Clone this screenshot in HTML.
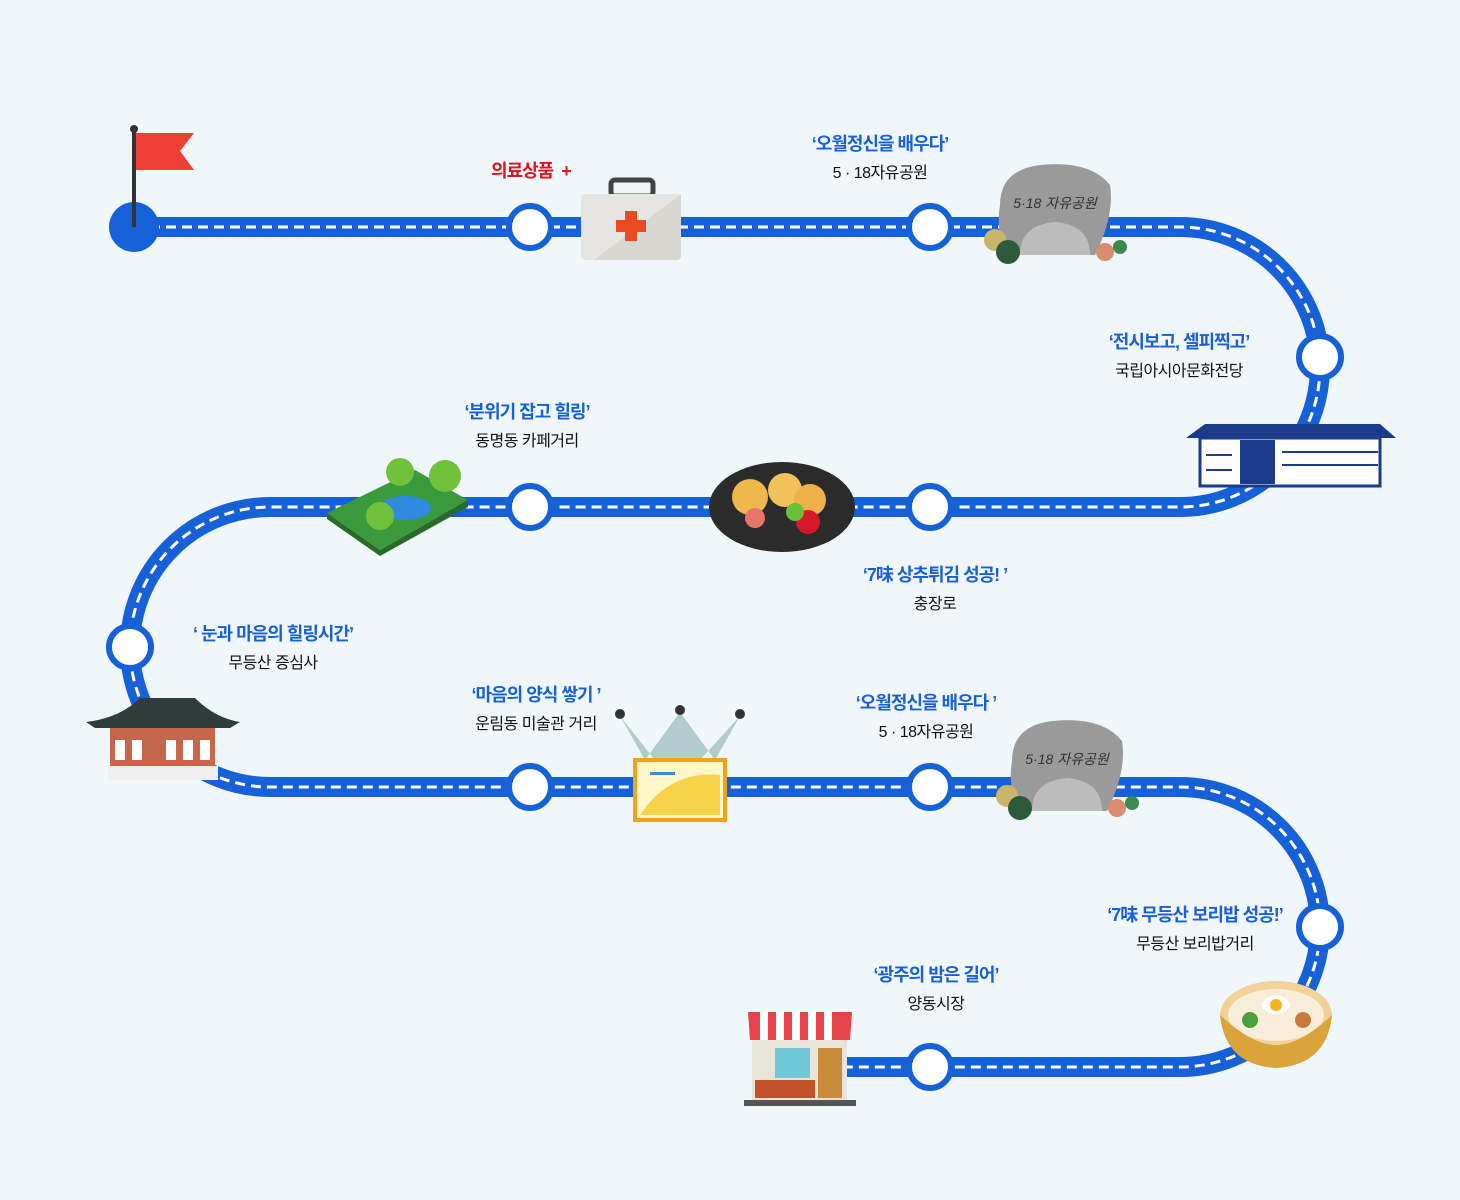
<!DOCTYPE html>
<html><head><meta charset="utf-8"><style>
html,body{margin:0;padding:0;background:#f0f7fb;}
#c{position:relative;width:1460px;height:1200px;overflow:hidden;font-family:"Liberation Sans","Noto Sans CJK KR",sans-serif;}
.t{position:absolute;text-align:center;white-space:nowrap;transform:translateX(-50%);}
.t b{display:block;color:#1a5fd6;font-size:18px;font-weight:700;letter-spacing:-1px;}
.t span{display:block;color:#111;font-size:16px;margin-top:3px;letter-spacing:-0.5px;}
</style></head><body><div id="c">
<svg width="1460" height="1200" style="position:absolute;left:0;top:0">
<path d="M134 227 H1180 A140 140 0 0 1 1180 507 H270 A140 140 0 0 0 270 787 H1180 A140 140 0 0 1 1180 1067 H845" fill="none" stroke="#1660d8" stroke-width="20"/>
<path d="M134 227 H1180 A140 140 0 0 1 1180 507 H270 A140 140 0 0 0 270 787 H1180 A140 140 0 0 1 1180 1067 H845" fill="none" stroke="#fff" stroke-width="3" stroke-dasharray="10 6"/>
<circle cx="134" cy="227" r="25" fill="#1660d8"/>
<line x1="134" y1="130" x2="134" y2="227" stroke="#333" stroke-width="4"/>
<circle cx="134" cy="129" r="4" fill="#333"/>
<path d="M136 133 H194 L180 151 L194 170 H136 Z" fill="#ef3e36"/>
<g fill="#fff" stroke="#1660d8" stroke-width="6">
<circle cx="530" cy="227" r="21"/><circle cx="930" cy="227" r="21"/><circle cx="1320" cy="357" r="21"/>
<circle cx="930" cy="507" r="21"/><circle cx="530" cy="507" r="21"/><circle cx="130" cy="647" r="21"/>
<circle cx="530" cy="787" r="21"/><circle cx="930" cy="787" r="21"/><circle cx="1320" cy="927" r="21"/>
<circle cx="930" cy="1067" r="21"/>
</g>
<rect x="611" y="180" width="42" height="16" rx="4" fill="none" stroke="#444" stroke-width="5"/>
<rect x="581" y="194" width="100" height="66" rx="4" fill="#e6e5e1"/>
<path d="M594 260 L681 194 V256 a4 4 0 0 1 -4 4Z" fill="#d9d7d2"/>
<rect x="616" y="220" width="30" height="12" fill="#ea4a22"/><rect x="625" y="211" width="12" height="30" fill="#ea4a22"/>
<g id="stone">
<path d="M1000 205 Q1000 170 1040 165 Q1090 160 1110 185 Q1115 215 1095 255 H1010 Q995 235 1000 205Z" fill="#9a9a9a"/>
<path d="M1020 255 Q1020 225 1055 222 Q1090 225 1090 255Z" fill="#bcbcbc"/>
<text x="1055" y="208" font-size="14" font-family="Liberation Sans,Noto Sans CJK KR,sans-serif" fill="#333" text-anchor="middle" font-style="italic">5·18 자유공원</text>
<circle cx="995" cy="240" r="11" fill="#c8b56a"/><circle cx="1008" cy="252" r="12" fill="#2d5a3a"/>
<circle cx="1105" cy="252" r="9" fill="#d98c6e"/><circle cx="1120" cy="247" r="7" fill="#3c8a4e"/>
</g>
<use href="#stone" x="12" y="556"/>
<path d="M1186 438 L1205 424 H1380 L1396 438Z" fill="#1b3a8a"/>
<rect x="1200" y="438" width="180" height="48" fill="#fff" stroke="#1b3a8a" stroke-width="3"/>
<rect x="1240" y="440" width="35" height="44" fill="#1b3a8a"/>
<g fill="none" stroke="#1b3a8a" stroke-width="2"><line x1="1282" y1="452" x2="1378" y2="452"/><line x1="1282" y1="465" x2="1378" y2="465"/><line x1="1206" y1="455" x2="1232" y2="455"/><line x1="1206" y1="470" x2="1232" y2="470"/></g>
<ellipse cx="782" cy="507" rx="73" ry="45" fill="#2b2b2b"/>
<circle cx="750" cy="497" r="18" fill="#f0b74a"/><circle cx="785" cy="490" r="17" fill="#f2c25a"/><circle cx="810" cy="500" r="16" fill="#eeb04a"/>
<circle cx="808" cy="522" r="12" fill="#d8192a"/><circle cx="795" cy="512" r="9" fill="#6bbf3a"/><circle cx="755" cy="518" r="10" fill="#e8766a"/>
<path d="M327 513 L415 470 L468 500 L380 550Z" fill="#3a9a3c"/>
<path d="M327 513 L380 550 L468 500 V507 L380 556 L327 519Z" fill="#2a6a2a"/>
<ellipse cx="405" cy="508" rx="26" ry="12" fill="#2f8be0"/>
<circle cx="400" cy="472" r="14" fill="#6fc23a"/><circle cx="445" cy="476" r="16" fill="#6fc23a"/><circle cx="380" cy="516" r="14" fill="#6fc23a"/>
<path d="M86 722 Q120 718 140 698 H195 Q215 718 240 722 L230 728 H95Z" fill="#2f3c3c"/>
<rect x="110" y="728" width="105" height="38" fill="#c5674a"/>
<g fill="#fff"><rect x="115" y="740" width="10" height="20"/><rect x="132" y="740" width="10" height="20"/><rect x="166" y="740" width="10" height="20"/><rect x="183" y="740" width="10" height="20"/><rect x="200" y="740" width="10" height="20"/></g>
<rect x="108" y="766" width="110" height="14" fill="#eee"/>
<path d="M620 716 L655 760 H700 L740 716 L715 760 L680 712 L645 760Z" fill="#a3bfc4" opacity="0.8"/>
<circle cx="620" cy="714" r="5" fill="#333"/><circle cx="680" cy="710" r="5" fill="#333"/><circle cx="740" cy="714" r="5" fill="#333"/>
<rect x="635" y="760" width="90" height="60" fill="#fff7c8" stroke="#f1a21c" stroke-width="4"/>
<path d="M640 815 Q670 770 720 775 V815Z" fill="#f7d34a"/>
<rect x="650" y="772" width="25" height="3" fill="#3a8ae0"/>
<ellipse cx="1276" cy="1015" rx="56" ry="34" fill="#f3d29a"/>
<ellipse cx="1276" cy="1015" rx="48" ry="26" fill="#f7edd8"/>
<path d="M1220 1015 Q1225 1065 1276 1068 Q1327 1065 1332 1015 Q1300 1045 1276 1045 Q1252 1045 1220 1015Z" fill="#d9a43a"/>
<ellipse cx="1276" cy="1005" rx="14" ry="9" fill="#fff"/><circle cx="1276" cy="1005" r="6" fill="#f4b21c"/>
<circle cx="1250" cy="1020" r="8" fill="#4aa03a"/><circle cx="1303" cy="1020" r="8" fill="#c87a3a"/>
<rect x="752" y="1035" width="95" height="65" fill="#e9e4d8"/>
<path d="M748 1012 H852 L850 1040 H750Z" fill="#e8434a"/>
<g fill="#fff"><rect x="760" y="1012" width="8" height="28"/><rect x="776" y="1012" width="8" height="28"/><rect x="792" y="1012" width="8" height="28"/><rect x="808" y="1012" width="8" height="28"/><rect x="824" y="1012" width="8" height="28"/></g>
<rect x="775" y="1048" width="35" height="30" fill="#6ec6d6"/>
<rect x="818" y="1048" width="24" height="50" fill="#c98a3a"/>
<rect x="755" y="1080" width="60" height="18" fill="#c3522a"/>
<rect x="744" y="1100" width="112" height="6" fill="#555"/>
</svg>
<div style="position:absolute;left:491px;top:157px;color:#e0141e;font-size:18px;font-weight:700;letter-spacing:-1px">의료상품 &nbsp;+</div>
<div class="t" style="left:880px;top:130px"><b>‘오월정신을 배우다’</b><span>5 · 18자유공원</span></div>
<div class="t" style="left:1179px;top:328px"><b>‘전시보고, 셀피찍고’</b><span>국립아시아문화전당</span></div>
<div class="t" style="left:527px;top:398px"><b>‘분위기 잡고 힐링’</b><span>동명동 카페거리</span></div>
<div class="t" style="left:935px;top:561px"><b>‘7味 상추튀김 성공! ’</b><span>충장로</span></div>
<div class="t" style="left:273px;top:620px"><b>‘ 눈과 마음의 힐링시간’</b><span>무등산 증심사</span></div>
<div class="t" style="left:536px;top:681px"><b>‘마음의 양식 쌓기 ’</b><span>운림동 미술관 거리</span></div>
<div class="t" style="left:926px;top:689px"><b>‘오월정신을 배우다 ’</b><span>5 · 18자유공원</span></div>
<div class="t" style="left:1195px;top:901px"><b>‘7味 무등산 보리밥 성공!’</b><span>무등산 보리밥거리</span></div>
<div class="t" style="left:936px;top:961px"><b>‘광주의 밤은 길어’</b><span>양동시장</span></div>
</div></body></html>
